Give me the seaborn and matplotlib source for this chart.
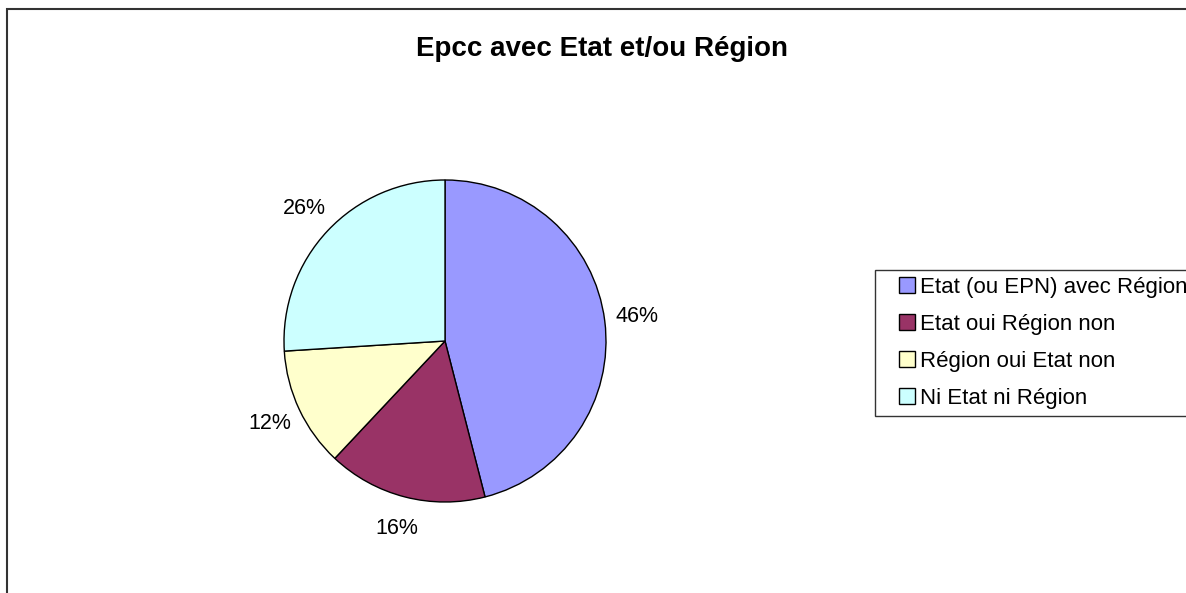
import matplotlib
matplotlib.use("Agg")
import matplotlib.pyplot as plt
import matplotlib.patches as mpatches
from matplotlib.lines import Line2D
import seaborn as sns

# data
categories = ['Etat (ou EPN) avec Région', 'Etat oui Région non',
              'Région oui Etat non', 'Ni Etat ni Région']
values = [46, 16, 12, 26]
colors = ['#9999FF', '#993366', '#FFFFCC', '#CCFFFF']

sns.set_theme(style='white')
plt.rcParams['font.family'] = ['Liberation Sans', 'DejaVu Sans']
pal = sns.color_palette(colors)

W, H = 1186, 593
fig = plt.figure(figsize=(W / 100, H / 100), dpi=100)
cx, cy, r = 445, 341, 161
ax = fig.add_axes([(cx - r) / W, 1 - (cy + r) / H, 2 * r / W, 2 * r / H])

wedges, texts, autotexts = ax.pie(values, colors=pal, startangle=90, counterclock=False,
                                  autopct='%1.0f%%', pctdistance=1.2,
                                  wedgeprops={'edgecolor': 'black', 'linewidth': 1},
                                  textprops={'fontsize': 15.5, 'color': 'black'})
ax.set_xlim(-1, 1)
ax.set_ylim(-1, 1)
ax.set_aspect('equal')
for t in autotexts:
    t.set_clip_on(False)

fig.text(602 / W, 1 - 49 / H, 'Epcc avec Etat et/ou Région', ha='center', va='center',
         fontsize=20, fontweight='bold', color='black')

handles = [Line2D([], [], marker='s', linestyle='', markersize=11, markerfacecolor=c,
                  markeredgecolor='black', markeredgewidth=1) for c in colors]
leg = fig.legend(handles, categories, loc='upper left', bbox_to_anchor=(875 / W, 1 - 270 / H),
                 fontsize=16, frameon=True, fancybox=False, handlelength=2.2,
                 handletextpad=-0.5, labelspacing=0.72, borderpad=0.32, borderaxespad=0)
leg.get_frame().set_edgecolor('black')
leg.get_frame().set_linewidth(1)
for t in leg.get_texts():
    t.set_color('black')

# outer chart-area border (right/bottom edges fall outside the image)
fig.patches.append(mpatches.Rectangle((7 / W, -0.5), 2, 1.5 - 9 / H, transform=fig.transFigure,
                                      fill=False, edgecolor='#333333', linewidth=1.5))

fig.savefig('out.png', dpi=100)
